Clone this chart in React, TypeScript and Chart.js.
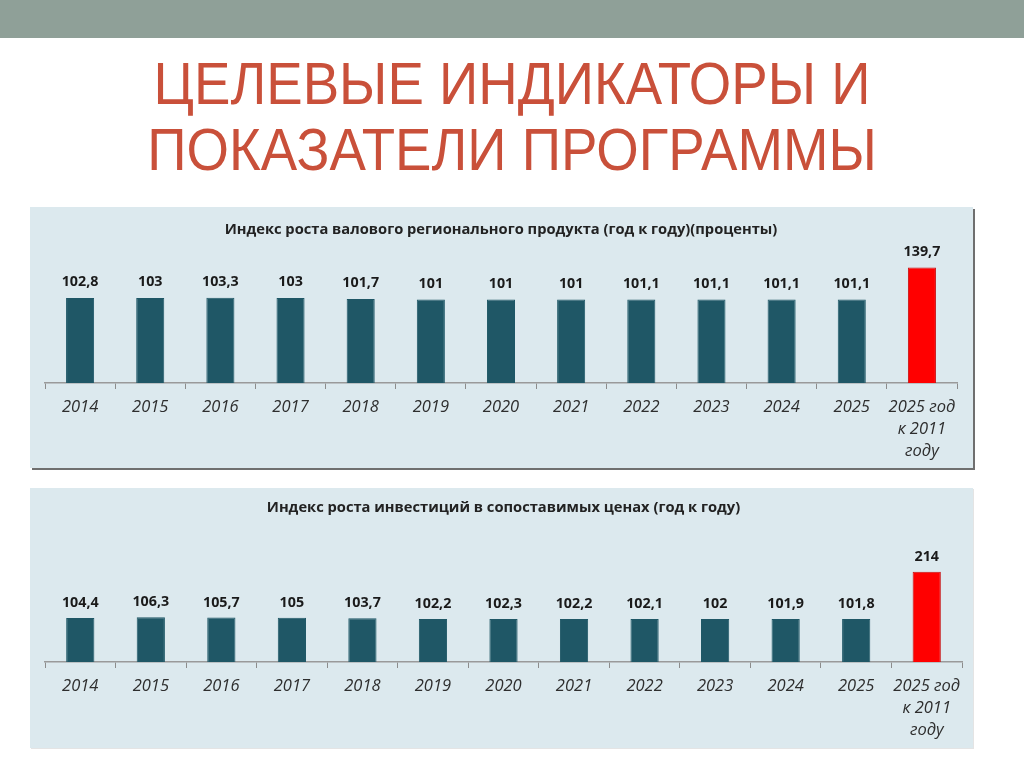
import React, { useEffect, useRef } from "react";
import { Chart, registerables } from "chart.js";
Chart.register(...registerables);

const categories: (string | string[])[] = [
  "2014", "2015", "2016", "2017", "2018", "2019", "2020",
  "2021", "2022", "2023", "2024", "2025", ["2025 год", "к 2011", "году"],
];
const grpValues = [102.8, 103, 103.3, 103, 101.7, 101, 101, 101, 101.1, 101.1, 101.1, 101.1, 139.7];
const invValues = [104.4, 106.3, 105.7, 105, 103.7, 102.2, 102.3, 102.2, 102.1, 102, 101.9, 101.8, 214];
const grpTitle = "Индекс роста валового регионального продукта (год к году)(проценты)";
const invTitle = "Индекс роста инвестиций в сопоставимых ценах (год к году)";
const pageTitle = ["ЦЕЛЕВЫЕ ИНДИКАТОРЫ И", "ПОКАЗАТЕЛИ ПРОГРАММЫ"];

const TEAL = "#1f5766";
const RED = "#ff0000";

const fmt = (v: number) => String(v).replace(".", ",");

const valueLabels = {
  id: "valueLabels",
  afterDatasetsDraw(chart: any, _args: any, opts: any) {
    const ctx = chart.ctx;
    const meta = chart.getDatasetMeta(0);
    const data = chart.data.datasets[0].data as number[];
    ctx.save();
    ctx.font = "bold 14.3px 'Open Sans'";
    ctx.fillStyle = "#1a1a1a";
    ctx.textAlign = "center";
    ctx.textBaseline = "middle";
    meta.data.forEach((bar: any, i: number) => {
      ctx.fillText(fmt(data[i]), bar.x, bar.y - (opts.offset || 16));
    });
    ctx.restore();
  },
};

type PanelProps = {
  title: string;
  values: number[];
  max: number;
  width: number;
  height: number;
  axisHeight: number;
  titleTop: number;
  titleBottom: number;
  padRight: number;
  labelOffset: number;
};

function BarPanel(p: PanelProps) {
  const ref = useRef<HTMLCanvasElement>(null);
  useEffect(() => {
    const n = p.values.length;
    const chart = new Chart(ref.current!, {
      type: "bar",
      data: {
        labels: categories as any,
        datasets: [
          {
            data: p.values,
            backgroundColor: p.values.map((_, i) => (i === n - 1 ? RED : TEAL)),
            borderColor: p.values.map((_, i) => (i === n - 1 ? "#c81010" : TEAL)),
            borderWidth: 1,
            barPercentage: 0.4,
            categoryPercentage: 1,
          },
        ],
      },
      options: {
        animation: false,
        responsive: false,
        maintainAspectRatio: false,
        layout: { padding: { left: 15, right: p.padRight, top: 0, bottom: 0 } },
        plugins: {
          legend: { display: false },
          tooltip: { enabled: false },
          title: {
            display: true,
            text: p.title,
            color: "#222",
            font: { family: "'Open Sans'", size: 14.7, weight: "bold" },
            padding: { top: p.titleTop, bottom: p.titleBottom },
          },
          valueLabels: { offset: p.labelOffset },
        } as any,
        scales: {
          y: { display: false, min: 0, max: p.max },
          x: {
            afterFit: (s: any) => {
              s.height = p.axisHeight;
            },
            grid: {
              offset: true,
              drawOnChartArea: false,
              drawTicks: true,
              tickLength: 6,
              color: "#8c8c8c",
              lineWidth: 1,
            },
            border: { display: true, color: "#9a9a9a", width: 1.5 },
            ticks: {
              color: "#2e2e2e",
              padding: 7,
              maxRotation: 0,
              autoSkip: false,
              font: { family: "'Open Sans'", size: 16.5, style: "italic", lineHeight: "22px" } as any,
            },
          },
        },
      },
      plugins: [valueLabels],
    });
    return () => chart.destroy();
  }, []);
  return <canvas ref={ref} width={p.width} height={p.height} style={{ display: "block" }} />;
}

export default function App() {
  return (
    <div
      style={{
        position: "fixed",
        left: 0,
        top: 0,
        width: 1024,
        height: 767,
        background: "#ffffff",
        overflow: "hidden",
      }}
    >
      <div style={{ position: "absolute", left: 0, top: 0, width: 1024, height: 38, background: "#8fa098" }} />
      <div
        style={{
          position: "absolute",
          left: 0,
          top: 51,
          width: 1024,
          textAlign: "center",
          fontFamily: "'Liberation Sans', Arial, sans-serif",
          fontSize: 60,
          lineHeight: "66px",
          color: "#c9503a",
          transform: "scaleX(0.91)",
          transformOrigin: "512px 0",
        }}
      >
        {pageTitle.map((t, i) => (
          <div key={i}>{t}</div>
        ))}
      </div>
      <div
        style={{
          position: "absolute",
          left: 30,
          top: 207,
          width: 943,
          height: 261,
          background: "#dce9ee",
          boxShadow: "2px 2px 0 #6f6f6f",
        }}
      >
        <BarPanel
          title={grpTitle}
          values={grpValues}
          max={159}
          width={943}
          height={261}
          axisHeight={85}
          titleTop={14}
          titleBottom={13}
          padRight={16}
          labelOffset={16}
        />
      </div>
      <div
        style={{
          position: "absolute",
          left: 30,
          top: 488,
          width: 943,
          height: 260,
          background: "#dce9ee",
          boxShadow: "1px 1px 0 #e4e4e4",
        }}
      >
        <BarPanel
          title={invTitle}
          values={invValues}
          max={307}
          width={943}
          height={260}
          axisHeight={86}
          titleTop={11}
          titleBottom={16}
          padRight={11}
          labelOffset={15}
        />
      </div>
    </div>
  );
}
